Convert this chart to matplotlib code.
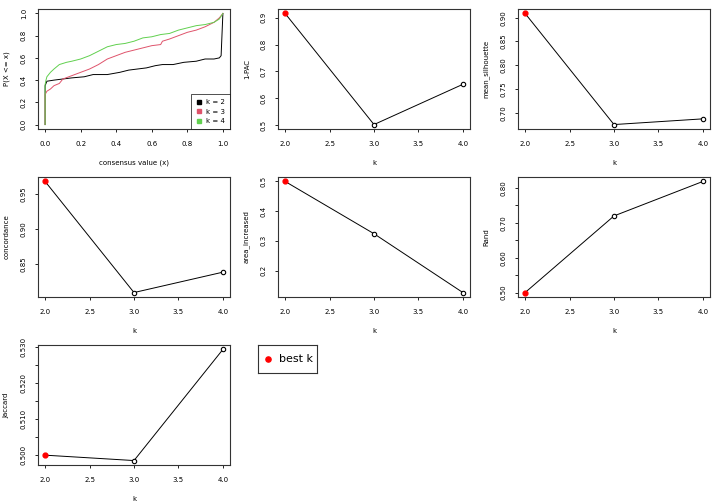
import numpy as np
import matplotlib.pyplot as plt
from matplotlib.lines import Line2D

# %% Data
k = [2, 3, 4]
best_k = 2

ecdf_x = {
    2: [0.0, 0.0, 0.005, 0.01, 0.05, 0.10, 0.15, 0.22, 0.27, 0.35, 0.42, 0.47, 0.52, 0.57,
        0.62, 0.66, 0.72, 0.78, 0.85, 0.90, 0.95, 0.98, 0.99, 1.0],
    3: [0.0, 0.0, 0.01, 0.03, 0.05, 0.08, 0.10, 0.15, 0.20, 0.25, 0.30, 0.33, 0.35, 0.40,
        0.45, 0.50, 0.55, 0.60, 0.65, 0.66, 0.70, 0.75, 0.80, 0.85, 0.90, 0.95, 0.98, 1.0],
    4: [0.0, 0.0, 0.005, 0.01, 0.03, 0.05, 0.08, 0.12, 0.15, 0.20, 0.25, 0.30, 0.35, 0.40,
        0.45, 0.50, 0.55, 0.60, 0.65, 0.70, 0.75, 0.80, 0.85, 0.90, 0.95, 0.98, 1.0],
}
ecdf_y = {
    2: [0.0, 0.35, 0.37, 0.39, 0.40, 0.41, 0.42, 0.43, 0.45, 0.45, 0.47, 0.49, 0.50, 0.51,
        0.53, 0.54, 0.54, 0.56, 0.57, 0.59, 0.59, 0.60, 0.62, 1.0],
    3: [0.0, 0.27, 0.30, 0.32, 0.35, 0.37, 0.41, 0.44, 0.47, 0.50, 0.54, 0.57, 0.59, 0.62,
        0.65, 0.67, 0.69, 0.71, 0.72, 0.75, 0.77, 0.80, 0.83, 0.85, 0.88, 0.92, 0.96, 1.0],
    4: [0.0, 0.36, 0.40, 0.43, 0.47, 0.50, 0.54, 0.56, 0.57, 0.59, 0.62, 0.66, 0.70, 0.72,
        0.73, 0.75, 0.78, 0.79, 0.81, 0.82, 0.85, 0.87, 0.89, 0.90, 0.92, 0.95, 1.0],
}
ecdf_col = {2: 'black', 3: '#DF536B', 4: '#61D04F'}

pac = [0.916, 0.502, 0.652]
mean_silhouette = [0.909, 0.675, 0.687]
concordance = [0.968, 0.810, 0.839]
area_increased = [0.500, 0.324, 0.126]
rand = [0.500, 0.720, 0.819]
jaccard = [0.500, 0.4985, 0.5294]

stats = [
    ('1-PAC', pac, [0.5, 0.6, 0.7, 0.8, 0.9], None),
    ('mean_silhouette', mean_silhouette, [0.70, 0.75, 0.80, 0.85, 0.90], '%.2f'),
    ('concordance', concordance, [0.85, 0.90, 0.95], '%.2f'),
    ('area_increased', area_increased, [0.2, 0.3, 0.4, 0.5], None),
    ('Rand', rand, [0.50, 0.55, 0.60, 0.65, 0.70, 0.75, 0.80], '%.2f'),
    ('Jaccard', jaccard, [0.500, 0.505, 0.510, 0.515, 0.520, 0.525, 0.530], '%.3f'),
]

# %% Layout helpers (pixel based, 720x504 canvas)
W, H = 720, 504
fs = 5


def panel_axes(fig, r, c):
    left = 240 * c + 38
    right = 240 * c + 230
    top = 168 * r + 9
    bottom = 168 * r + 129
    return fig.add_axes([left / W, 1 - bottom / H, (right - left) / W, (bottom - top) / H])


def r_style(ax):
    for s in ax.spines.values():
        s.set_linewidth(0.8)
        s.set_color('#333333')
    ax.tick_params(direction='out', length=2.5, width=0.6, labelsize=fs)
    ax.tick_params(axis='x', pad=6.5)
    ax.tick_params(axis='y', pad=5.5)
    for lab in ax.get_yticklabels():
        lab.set_rotation(90)
        lab.set_va('center')


fig = plt.figure(figsize=(7.2, 5.04), dpi=100)

# %% ECDF panel
ax = panel_axes(fig, 0, 0)
for kk in k:
    ax.plot(ecdf_x[kk], ecdf_y[kk], color=ecdf_col[kk], lw=0.7)
ax.set_xlim(-0.04, 1.04)
ax.set_ylim(-0.04, 1.04)
ax.set_xticks([0.0, 0.2, 0.4, 0.6, 0.8, 1.0])
ax.set_yticks([0.0, 0.2, 0.4, 0.6, 0.8, 1.0])
ax.set_xlabel('consensus value (x)', fontsize=fs, labelpad=9)
ax.set_ylabel('P(X <= x)', fontsize=fs, labelpad=8)
r_style(ax)
handles = [Line2D([], [], ls='none', marker='s', ms=2.5, color=ecdf_col[kk]) for kk in k]
leg = ax.legend(handles, ['k = %d' % kk for kk in k], loc='lower right', fontsize=fs,
                frameon=True, fancybox=False, borderpad=0.7, handlelength=1,
                handletextpad=0.5, borderaxespad=0)
leg.get_frame().set_edgecolor('black')
leg.get_frame().set_linewidth(0.6)

# %% statistic panels
pos = [(0, 1), (0, 2), (1, 0), (1, 1), (1, 2), (2, 0)]
for (name, vals, ticks, fmt), (r, c) in zip(stats, pos):
    ax = panel_axes(fig, r, c)
    ax.plot(k, vals, color='black', lw=0.7, zorder=1)
    ax.scatter(k[1:], vals[1:], s=10, facecolor='white', edgecolor='black', lw=0.8, zorder=2)
    ax.scatter([k[0]], [vals[0]], s=12, color='red', zorder=3)
    lo, hi = min(vals), max(vals)
    pad = (hi - lo) * 0.04
    ax.set_xlim(1.92, 4.08)
    ax.set_ylim(lo - pad, hi + pad)
    ax.set_xticks([2.0, 2.5, 3.0, 3.5, 4.0])
    ax.set_xticklabels(['2.0', '2.5', '3.0', '3.5', '4.0'])
    ax.set_yticks(ticks)
    labels = []
    for i, t in enumerate(ticks):
        if fmt is None:
            labels.append('%.1f' % t)
        elif len(ticks) > 5 and i % 2 == 1:
            labels.append('')
        else:
            labels.append(fmt % t)
    ax.set_yticklabels(labels)
    ax.set_xlabel('k', fontsize=fs, labelpad=9)
    ax.set_ylabel(name, fontsize=fs, labelpad=8)
    r_style(ax)

# %% best k legend
lax = fig.add_axes([258 / W, 1 - 373 / H, 59 / W, 28 / H])
lax.set_xlim(0, 1)
lax.set_ylim(0, 1)
lax.set_xticks([])
lax.set_yticks([])
for s in lax.spines.values():
    s.set_linewidth(0.8)
    s.set_color('#333333')
lax.scatter([0.17], [0.5], s=14, color='red')
lax.text(0.36, 0.5, 'best k', fontsize=8, va='center', ha='left')

fig.savefig('out.png', dpi=100)
